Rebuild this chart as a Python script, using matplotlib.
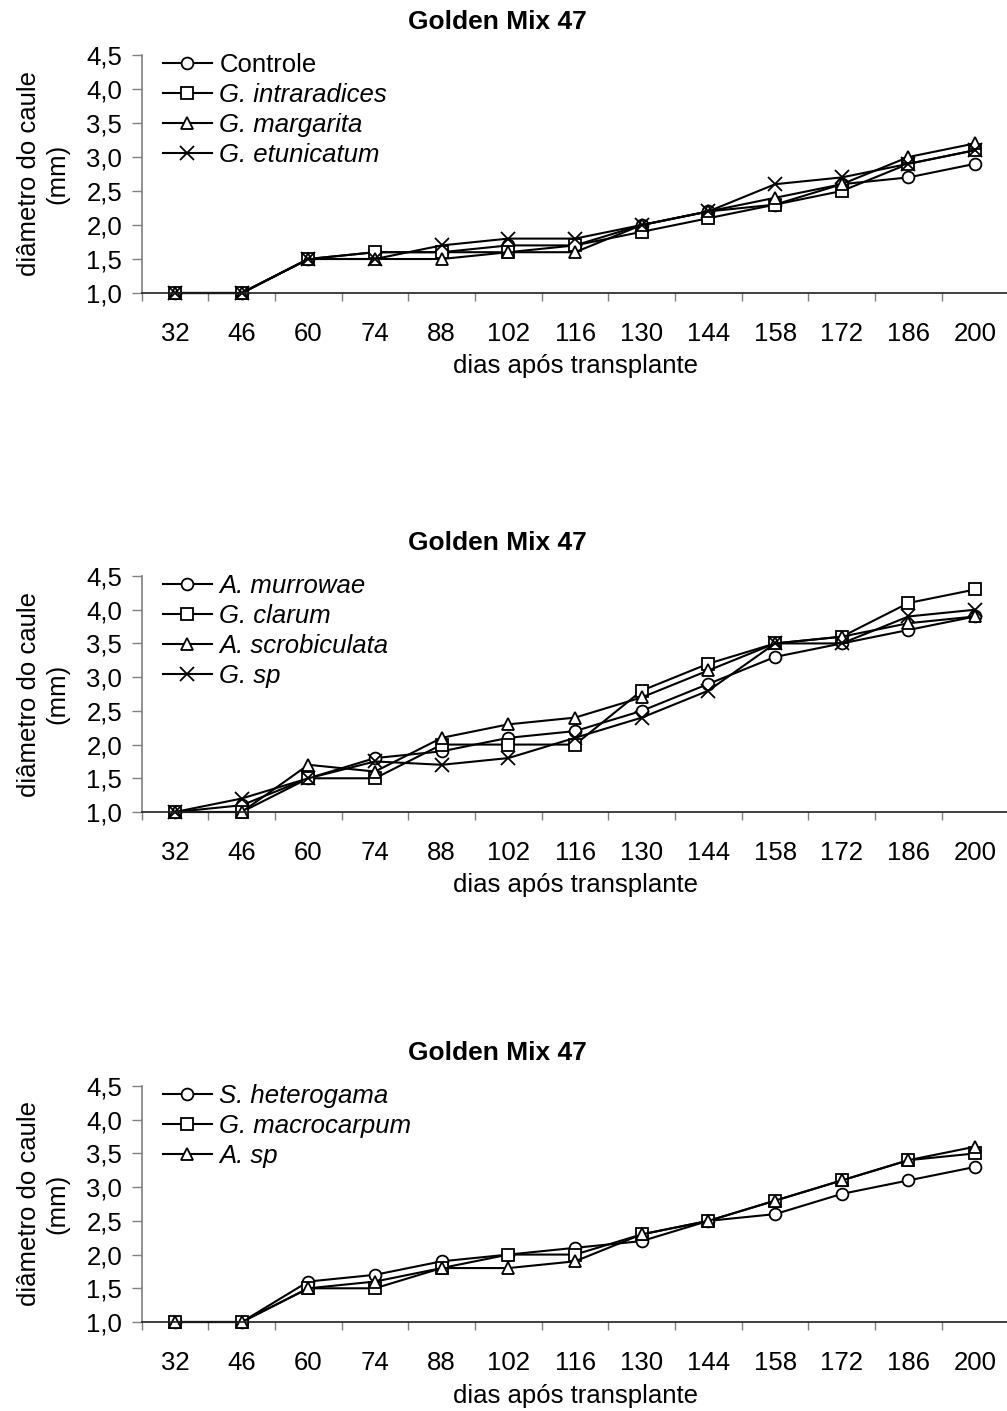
import numpy as np
import matplotlib
matplotlib.use('Agg')
import matplotlib.pyplot as plt
from matplotlib.ticker import FixedLocator, NullFormatter

plt.rcParams['font.family'] = ['Liberation Sans', 'DejaVu Sans']

days = ['32', '46', '60', '74', '88', '102', '116', '130', '144', '158', '172', '186', '200']
yticks = [1.0, 1.5, 2.0, 2.5, 3.0, 3.5, 4.0, 4.5]

# painel 1
controle = [1.0, 1.0, 1.5, 1.6, 1.6, 1.7, 1.7, 2.0, 2.2, 2.3, 2.6, 2.7, 2.9]
intraradices = [1.0, 1.0, 1.5, 1.6, 1.6, 1.6, 1.7, 1.9, 2.1, 2.3, 2.5, 2.9, 3.1]
margarita = [1.0, 1.0, 1.5, 1.5, 1.5, 1.6, 1.6, 2.0, 2.2, 2.4, 2.6, 3.0, 3.2]
etunicatum = [1.0, 1.0, 1.5, 1.5, 1.7, 1.8, 1.8, 2.0, 2.2, 2.6, 2.7, 2.9, 3.1]

# painel 2
murrowae = [1.0, 1.1, 1.5, 1.8, 1.9, 2.1, 2.2, 2.5, 2.9, 3.3, 3.5, 3.7, 3.9]
clarum = [1.0, 1.0, 1.5, 1.5, 2.0, 2.0, 2.0, 2.8, 3.2, 3.5, 3.6, 4.1, 4.3]
scrobiculata = [1.0, 1.0, 1.7, 1.6, 2.1, 2.3, 2.4, 2.7, 3.1, 3.5, 3.6, 3.8, 3.9]
gsp = [1.0, 1.2, 1.5, 1.75, 1.7, 1.8, 2.1, 2.4, 2.8, 3.5, 3.5, 3.9, 4.0]

# painel 3
heterogama = [1.0, 1.0, 1.6, 1.7, 1.9, 2.0, 2.1, 2.2, 2.5, 2.6, 2.9, 3.1, 3.3]
macrocarpum = [1.0, 1.0, 1.5, 1.5, 1.8, 2.0, 2.0, 2.3, 2.5, 2.8, 3.1, 3.4, 3.5]
asp = [1.0, 1.0, 1.5, 1.6, 1.8, 1.8, 1.9, 2.3, 2.5, 2.8, 3.1, 3.4, 3.6]

panels = [
    [(controle, 'Controle', 'o', 'normal'),
     (intraradices, 'G. intraradices', 's', 'italic'),
     (margarita, 'G. margarita', '^', 'italic'),
     (etunicatum, 'G. etunicatum', 'x', 'italic')],
    [(murrowae, 'A. murrowae', 'o', 'italic'),
     (clarum, 'G. clarum', 's', 'italic'),
     (scrobiculata, 'A. scrobiculata', '^', 'italic'),
     (gsp, 'G. sp', 'x', 'italic')],
    [(heterogama, 'S. heterogama', 'o', 'italic'),
     (macrocarpum, 'G. macrocarpum', 's', 'italic'),
     (asp, 'A. sp', '^', 'italic')],
]

W, H = 1007, 1411
fig = plt.figure(figsize=(W / 100, H / 100), dpi=100)

# (y do valor 1,0 ; y do valor 4,5) em pixels
bounds = [(293, 55), (812, 576), (1322, 1086)]
left, right = 141.7, 1008.5
fs = 18.5

for series, (ybot, ytop) in zip(panels, bounds):
    ax = fig.add_axes([left / W, 1 - ybot / H, (right - left) / W, (ybot - ytop) / H])
    x = np.arange(len(days))
    for vals, lab, mk, style in series:
        ms = {'o': 8.5, 's': 8.5, '^': 9, 'x': 10}[mk]
        ax.plot(x, vals, color='black', lw=1.5, marker=mk, ms=ms,
                mfc='white', mec='black', mew=1.3, label=lab, clip_on=False)

    ax.set_xlim(-0.5, len(days) - 0.5)
    ax.set_ylim(1.0, 4.5)
    ax.set_xticks(x)
    ax.set_xticklabels(days, fontsize=fs)
    ax.xaxis.set_minor_locator(FixedLocator(np.arange(-0.5, len(days), 1.0)))
    ax.xaxis.set_minor_formatter(NullFormatter())
    ax.tick_params(axis='x', which='major', length=0, pad=21)
    ax.tick_params(axis='x', which='minor', length=6, width=1, color='#808080', direction='out')
    ax.set_yticks(yticks)
    ax.set_yticklabels([f'{v:.1f}'.replace('.', ',') for v in yticks], fontsize=fs)
    ax.tick_params(axis='y', length=7, width=1, color='#808080', pad=7)

    for s in ['top', 'right']:
        ax.spines[s].set_visible(False)
    ax.spines['left'].set_color('#808080')
    ax.spines['bottom'].set_color('#202020')
    ax.spines['left'].set_linewidth(1.2)
    ax.spines['bottom'].set_linewidth(1.2)

    ax.set_xlabel('dias após transplante', fontsize=fs, labelpad=6)
    ax.set_title('Golden Mix 47', fontsize=19, fontweight='bold', x=0.41, pad=19)

    leg = ax.legend(loc='upper left', frameon=False,
                    fontsize=fs, handlelength=1.9, handletextpad=0.31,
                    labelspacing=0.24, borderaxespad=0.0, borderpad=0.0)
    for txt, (_, _, _, style) in zip(leg.get_texts(), series):
        txt.set_fontstyle(style)
    leg.set_bbox_to_anchor((21 / (right - left), 1.01), transform=ax.transAxes)

    fig.text(43 / W, 1 - ((ybot + ytop) / 2) / H, 'diâmetro do caule\n(mm)',
             rotation=90, ha='center', va='center', fontsize=fs,
             multialignment='center', linespacing=1.2)

fig.savefig('out.png', dpi=100)
